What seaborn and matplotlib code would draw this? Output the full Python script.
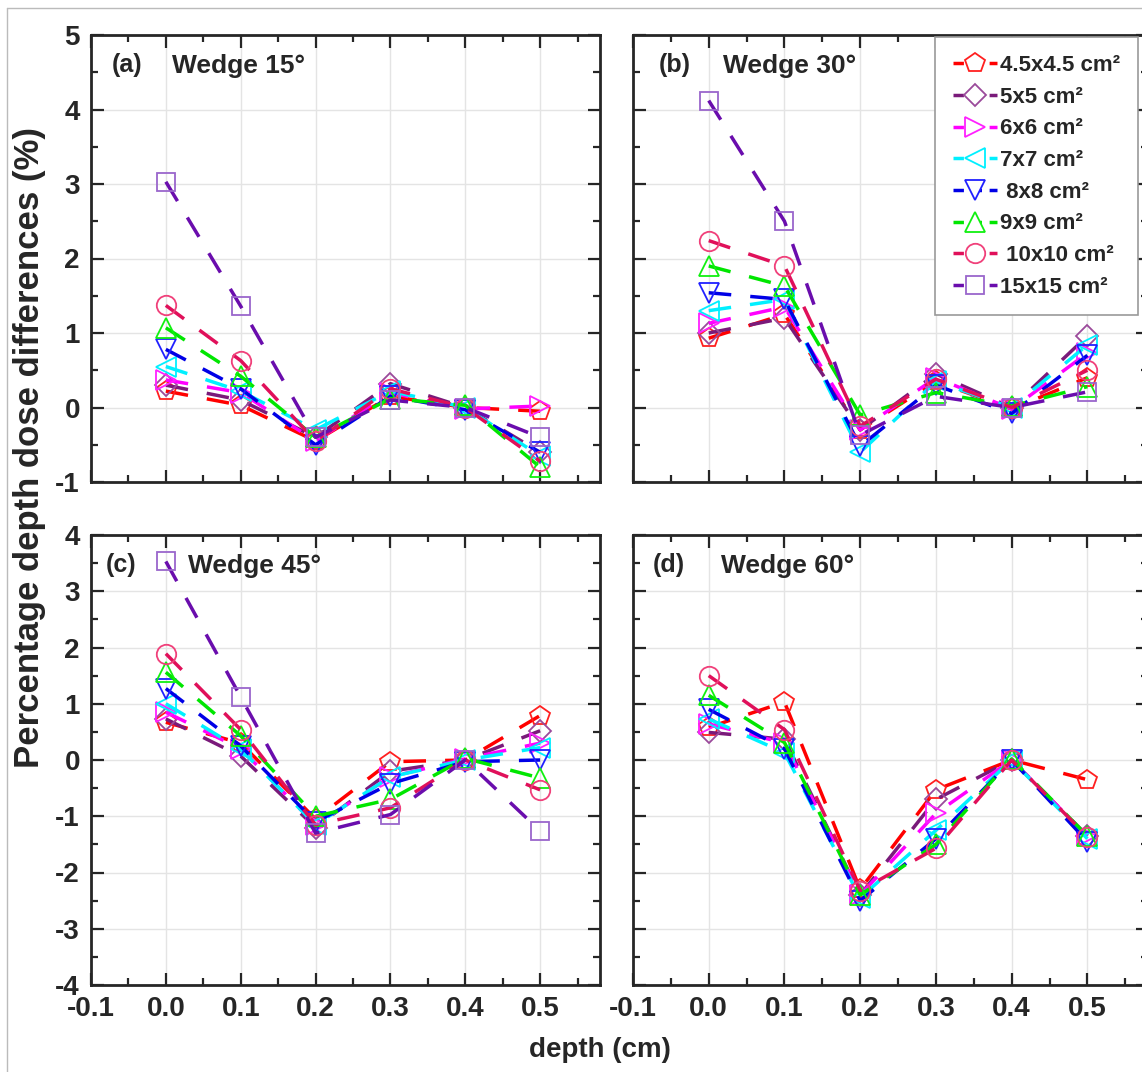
import numpy as np
import matplotlib
matplotlib.use("Agg")
import matplotlib.pyplot as plt
from matplotlib.lines import Line2D
import seaborn as sns

# depths (cm) and field sizes
depth = [0.0, 0.1, 0.2, 0.3, 0.4, 0.5]
fields = ["4.5x4.5 cm²", "5x5 cm²", "6x6 cm²", "7x7 cm²",
          " 8x8 cm²", "9x9 cm²", " 10x10 cm²", "15x15 cm²"]

# percentage depth dose differences (%), one list per field size
w15 = [
    [0.22, 0.03, -0.45, 0.15, 0.00, -0.05],
    [0.30, 0.10, -0.40, 0.32, 0.00, -0.60],
    [0.37, 0.20, -0.45, 0.20, -0.02, 0.02],
    [0.55, 0.22, -0.30, 0.22, 0.00, -0.65],
    [0.78, 0.25, -0.50, 0.15, -0.03, -0.60],
    [1.07, 0.42, -0.40, 0.12, 0.03, -0.80],
    [1.37, 0.63, -0.45, 0.25, 0.00, -0.72],
    [3.03, 1.36, -0.40, 0.10, 0.00, -0.40],
]
w30 = [
    [0.93, 1.25, -0.30, 0.35, -0.02, 0.40],
    [1.00, 1.20, -0.30, 0.45, 0.00, 0.96],
    [1.13, 1.35, -0.30, 0.40, -0.02, 0.73],
    [1.30, 1.45, -0.60, 0.35, 0.00, 0.84],
    [1.54, 1.45, -0.52, 0.30, -0.08, 0.70],
    [1.90, 1.63, -0.10, 0.20, 0.02, 0.28],
    [2.24, 1.90, -0.25, 0.38, 0.00, 0.50],
    [4.12, 2.50, -0.37, 0.15, 0.00, 0.21],
]
w45 = [
    [0.67, 0.30, -1.05, -0.03, 0.00, 0.79],
    [0.73, 0.07, -1.20, -0.20, 0.00, 0.52],
    [0.85, 0.20, -1.15, -0.30, 0.02, 0.30],
    [1.00, 0.19, -1.15, -0.30, 0.00, 0.22],
    [1.27, 0.25, -1.10, -0.42, -0.03, 0.00],
    [1.56, 0.43, -1.00, -0.70, 0.03, -0.32],
    [1.89, 0.54, -1.15, -0.85, 0.00, -0.53],
    [3.53, 1.12, -1.30, -0.97, 0.00, -1.26],
]
w60 = [
    [0.58, 1.03, -2.30, -0.53, 0.00, -0.35],
    [0.49, 0.37, -2.40, -0.70, 0.00, -1.35],
    [0.64, 0.30, -2.40, -0.95, 0.00, -1.35],
    [0.73, 0.13, -2.45, -1.25, 0.00, -1.40],
    [0.90, 0.20, -2.50, -1.40, 0.00, -1.45],
    [1.15, 0.31, -2.40, -1.50, 0.02, -1.35],
    [1.50, 0.54, -2.32, -1.57, 0.00, -1.36],
    None,  # no 15x15 data for wedge 60
]

line_colors = ["#FF0000", "#7A1A7A", "#FF00FF", "#00F0FF",
               "#0000E6", "#00E600", "#E0105A", "#6A0DAD"]
edge_colors = ["#FF2020", "#9B4A9B", "#FF20FF", "#00F0FF",
               "#2020FF", "#10F010", "#F0407A", "#9A66CC"]
markers = ["p", "D", ">", "<", "v", "^", "o", "s"]
msizes = [14.5, 11, 14.5, 14.5, 14.5, 14.5, 14, 13.5]

sns.set_style("ticks")
plt.rcParams["font.family"] = ["Liberation Sans", "DejaVu Sans"]
plt.rcParams["font.weight"] = "bold"

fig = plt.figure(figsize=(11.42, 10.72), dpi=100)
W, H = 1142, 1072

def pos(l, r, t, b):
    return [l / W, 1 - b / H, (r - l) / W, (b - t) / H]

axes = [
    fig.add_axes(pos(91, 600, 35, 482)),
    fig.add_axes(pos(633, 1148, 35, 482)),
    fig.add_axes(pos(91, 600, 535, 985)),
    fig.add_axes(pos(633, 1148, 535, 985)),
]
panels = [w15, w30, w45, w60]
tags = ["(a)", "(b)", "(c)", "(d)"]
titles = ["Wedge 15°", "Wedge 30°", "Wedge 45°", "Wedge 60°"]
tag_x = [0.04, 0.05, 0.028, 0.038]
title_x = [0.16, 0.175, 0.19, 0.17]

for k, ax in enumerate(axes):
    data = panels[k]
    for i in range(len(fields)):
        if data[i] is None:
            continue
        sns.lineplot(x=depth, y=data[i], ax=ax, color=line_colors[i],
                     lw=2.5, linestyle=(0, (6.5, 5.5)), marker=markers[i],
                     markersize=msizes[i], mfc="none", mec=edge_colors[i],
                     mew=1.3, errorbar=None, sort=False)
    ax.set_xlim(-0.1, 0.58)
    if k < 2:
        ax.set_ylim(-1, 5)
        ax.set_yticks(np.arange(-1, 6, 1))
        ax.set_yticks(np.arange(-1, 5.01, 0.5), minor=True)
    else:
        ax.set_ylim(-4, 4)
        ax.set_yticks(np.arange(-4, 5, 1))
        ax.set_yticks(np.arange(-4, 4.01, 0.5), minor=True)
    ax.set_xticks(np.arange(-0.1, 0.51, 0.1))
    ax.set_xticks(np.arange(-0.1, 0.58, 0.05), minor=True)
    ax.set_xticklabels(["-0.1", "0.0", "0.1", "0.2", "0.3", "0.4", "0.5"])
    ax.set_yticklabels([str(int(v)) for v in ax.get_yticks()])
    ax.grid(True, which="major", color="#E4E4E4", lw=1)
    ax.set_axisbelow(True)
    ax.tick_params(which="both", direction="in", top=True, right=True,
                   width=1.6, labelsize=20, pad=8)
    ax.tick_params(which="major", length=9)
    ax.tick_params(which="minor", length=5)
    for s in ax.spines.values():
        s.set_linewidth(2)
    if k < 2:
        ax.tick_params(labelbottom=False)
    if k % 2 == 1:
        ax.tick_params(labelleft=False)
    ax.set_xlabel("")
    ax.set_ylabel("")
    ax.text(tag_x[k], 0.933, tags[k], transform=ax.transAxes, fontsize=18,
            fontweight="bold", va="center")
    ax.text(title_x[k], 0.93, titles[k], transform=ax.transAxes, fontsize=19,
            fontweight="bold", va="center")

handles = [Line2D([], [], color=line_colors[i], lw=2.5, linestyle=(0, (3, 2.2)),
                  marker=markers[i], markersize=msizes[i], mfc="white",
                  mec=edge_colors[i], mew=1.3) for i in range(len(fields))]
leg = axes[1].legend(handles, fields, loc="upper left",
                     bbox_to_anchor=(0.586, 0.995), borderaxespad=0,
                     prop={"size": 16, "weight": "bold"}, labelspacing=0.48,
                     handlelength=2.0, handletextpad=0.15, borderpad=0.8,
                     fancybox=False, framealpha=1, edgecolor="#999999")
leg.get_frame().set_linewidth(1.2)

fig.text(30 / W, 1 - 448 / H, "Percentage depth dose differences (%)",
         rotation=90, fontsize=25, fontweight="bold", ha="center", va="center")
fig.text(600 / W, 1 - 1050 / H, "depth (cm)", fontsize=20, fontweight="bold",
         ha="center", va="center")

# thin grey frame lines at the image border
fig.add_artist(Line2D([7 / W, 7 / W], [0, 1 - 8 / H], color="#BBBBBB", lw=1))
fig.add_artist(Line2D([7 / W, 1], [1 - 8 / H, 1 - 8 / H], color="#BBBBBB", lw=1))

fig.savefig("out.png", dpi=100)
